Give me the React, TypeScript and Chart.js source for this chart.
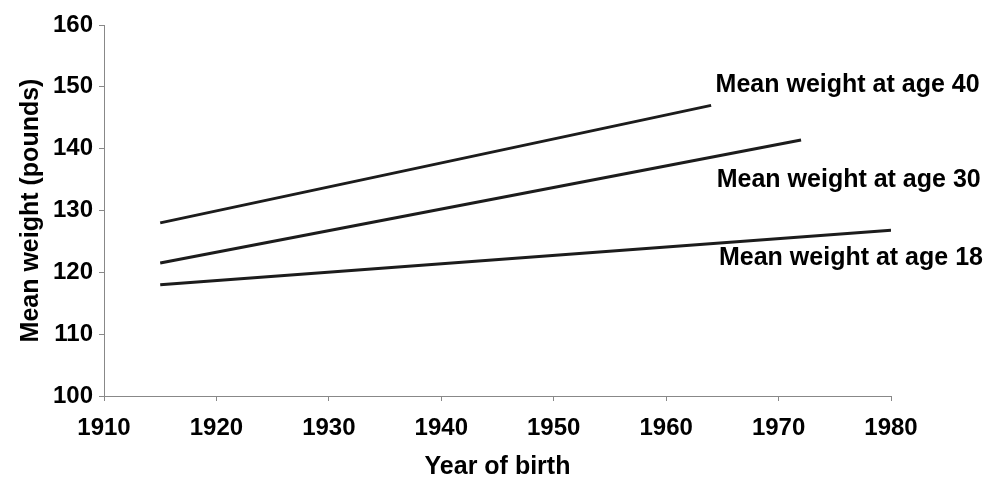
import React, { useEffect, useRef } from "react";
import { Chart, registerables } from "chart.js";

Chart.register(...registerables);

const years40 = [1915, 1964];
const weights40 = [128, 147];
const years30 = [1915, 1972];
const weights30 = [121.5, 141.4];
const years18 = [1915, 1980];
const weights18 = [118, 126.8];

const seriesLabels = ["Mean weight at age 40", "Mean weight at age 30", "Mean weight at age 18"];
const xTicks = [1910, 1920, 1930, 1940, 1950, 1960, 1970, 1980];
const yTicks = [100, 110, 120, 130, 140, 150, 160];

// label anchors (data coordinates: left edge, vertical centre)
const labelYears = [1964.4, 1964.5, 1964.7];
const labelWeights = [150.3, 134.9, 122.3];

const FONT = "'Liberation Sans', Arial, Helvetica, sans-serif";

const labelPlugin = {
  id: "lineLabels",
  afterDatasetsDraw(chart: any) {
    const { ctx, scales } = chart;
    ctx.save();
    ctx.font = `bold 25px ${FONT}`;
    ctx.fillStyle = "#000";
    ctx.textAlign = "left";
    ctx.textBaseline = "middle";
    seriesLabels.forEach((t, i) => {
      ctx.fillText(t, scales.x.getPixelForValue(labelYears[i]), scales.y.getPixelForValue(labelWeights[i]));
    });
    ctx.restore();
  },
};

const pts = (xs: number[], ys: number[]) => xs.map((x, i) => ({ x, y: ys[i] }));

export default function App() {
  const ref = useRef<HTMLCanvasElement>(null);
  useEffect(() => {
    if (!ref.current) return;
    const mk = (label: string, xs: number[], ys: number[]) => ({
      label,
      data: pts(xs, ys),
      borderColor: "#1c1c1c",
      borderWidth: 3,
      pointRadius: 0,
      tension: 0,
      fill: false,
    });
    const chart = new Chart(ref.current, {
      type: "line",
      data: {
        datasets: [
          mk(seriesLabels[0], years40, weights40),
          mk(seriesLabels[1], years30, weights30),
          mk(seriesLabels[2], years18, weights18),
        ],
      },
      options: {
        animation: false,
        responsive: false,
        layout: { padding: { left: 0, right: 113, top: 25, bottom: 0 } },
        plugins: { legend: { display: false }, tooltip: { enabled: false } },
        scales: {
          x: {
            type: "linear",
            min: 1910,
            max: 1980,
            afterBuildTicks: (s: any) => {
              s.ticks = xTicks.map((v) => ({ value: v }));
            },
            afterFit: (s: any) => {
              s.height = 97;
            },
            ticks: {
              color: "#000",
              font: { family: FONT, size: 24, weight: "bold" },
              padding: 13,
              callback: (v: any) => String(v),
              maxRotation: 0,
            },
            grid: { drawOnChartArea: false, tickLength: 5, color: "#888" },
            border: { color: "#888", width: 1 },
            title: {
              display: true,
              text: "Year of birth",
              color: "#000",
              font: { family: FONT, size: 25, weight: "bold" },
              padding: { top: 0, bottom: 11 },
            },
          },
          y: {
            type: "linear",
            min: 100,
            max: 160,
            afterBuildTicks: (s: any) => {
              s.ticks = yTicks.map((v) => ({ value: v }));
            },
            afterFit: (s: any) => {
              s.width = 104;
            },
            ticks: {
              color: "#000",
              font: { family: FONT, size: 24, weight: "bold" },
              padding: 6,
            },
            grid: { drawOnChartArea: false, tickLength: 5, color: "#888" },
            border: { color: "#888", width: 1 },
            title: {
              display: true,
              text: "Mean weight (pounds)",
              color: "#000",
              font: { family: FONT, size: 25, weight: "bold" },
              padding: { top: 16, bottom: 0 },
            },
          },
        },
      },
      plugins: [labelPlugin],
    } as any);
    return () => chart.destroy();
  }, []);
  return (
    <div style={{ position: "absolute", left: 0, top: 0, width: 1004, height: 493, background: "#fff" }}>
      <canvas ref={ref} width={1004} height={493} style={{ width: 1004, height: 493, display: "block" }} />
    </div>
  );
}
